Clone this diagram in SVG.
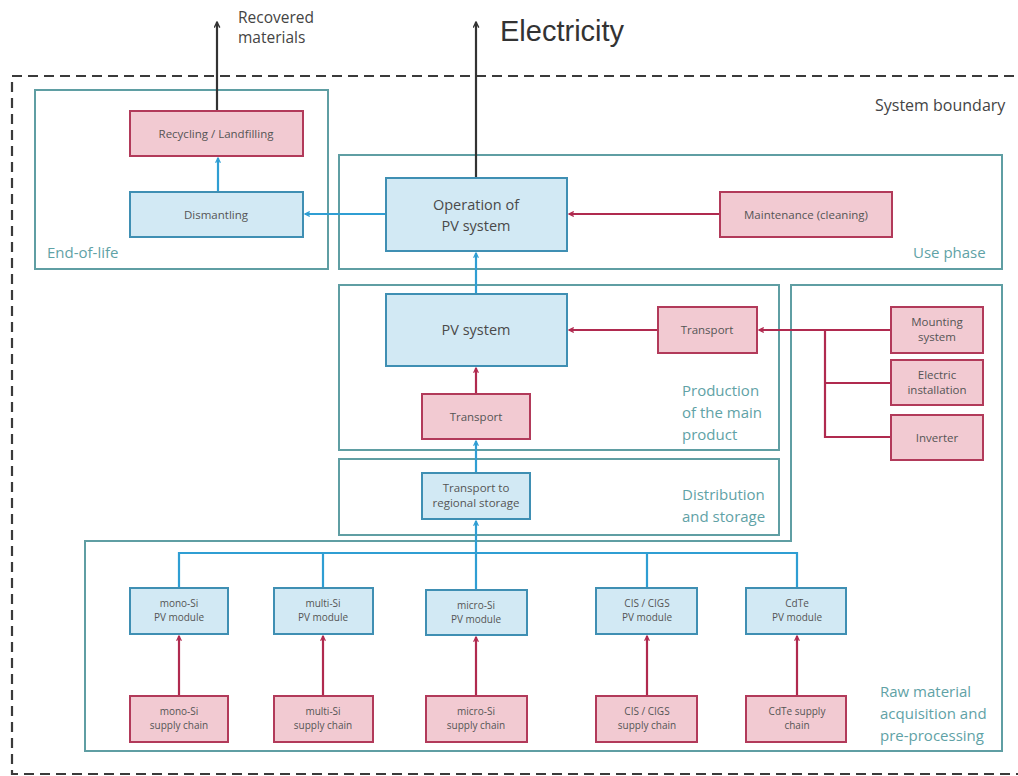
<svg xmlns="http://www.w3.org/2000/svg" width="1018" height="776" viewBox="0 0 1018 776">
<defs>
<style>
.bound{fill:none;stroke:#3a3a3a;stroke-width:2.2;stroke-dasharray:10 6}
.region{fill:none;stroke:#5f9ea3;stroke-width:2}
.rlabel{font-family:"Open Sans","Liberation Sans",sans-serif;font-size:15px;fill:#5fa2a6}
.bnode{fill:#d2e9f4;stroke:#3f8fb3;stroke-width:2}
.rnode{fill:#f2cad2;stroke:#b23a5a;stroke-width:2}
.nt{font-family:"Open Sans","Liberation Sans",sans-serif;font-size:10px;fill:#555;text-anchor:middle}
.nm{font-family:"Open Sans","Liberation Sans",sans-serif;font-size:11.5px;fill:#555;text-anchor:middle}
.ntl{font-family:"Open Sans","Liberation Sans",sans-serif;font-size:14.5px;fill:#4a4a4a;text-anchor:middle}
.bl{fill:none;stroke:#2f9ed3;stroke-width:2.2}
.rl{fill:none;stroke:#b02a4f;stroke-width:2.2}
.kl{fill:none;stroke:#333;stroke-width:2.2}
</style>
<marker id="ab" viewBox="0 0 10 10" refX="9" refY="5" markerWidth="6" markerHeight="6" orient="auto-start-reverse" markerUnits="userSpaceOnUse"><path d="M1,1 L9,5 L1,9" fill="none" stroke="#2f9ed3" stroke-width="2"/></marker>
<marker id="ar" viewBox="0 0 10 10" refX="9" refY="5" markerWidth="6" markerHeight="6" orient="auto-start-reverse" markerUnits="userSpaceOnUse"><path d="M1,1 L9,5 L1,9" fill="none" stroke="#b02a4f" stroke-width="2"/></marker>
<marker id="ak" viewBox="0 0 10 10" refX="9" refY="5" markerWidth="7" markerHeight="7" orient="auto-start-reverse" markerUnits="userSpaceOnUse"><path d="M1,1 L9,5 L1,9" fill="none" stroke="#333" stroke-width="2"/></marker>
</defs>
<rect width="1018" height="776" fill="#fff"/>

<g id="system-boundary">
<path class="bound" d="M1030,76 L12,76 L12,774 L1030,774"/>
<text x="875" y="111" font-family="'Open Sans','Liberation Sans',sans-serif" font-size="16" fill="#444">System boundary</text>
</g>

<g id="regions">
<g id="end-of-life"><rect class="region" x="35" y="90" width="293" height="179"/><text class="rlabel" x="47" y="258">End-of-life</text></g>
<g id="use-phase"><rect class="region" x="339" y="155" width="663" height="114"/><text class="rlabel" x="913" y="258">Use phase</text></g>
<g id="production"><rect class="region" x="339" y="285" width="440" height="165"/><text class="rlabel" x="682" y="396">Production</text><text class="rlabel" x="682" y="418">of the main</text><text class="rlabel" x="682" y="440">product</text></g>
<g id="distribution"><rect class="region" x="339" y="459" width="440" height="76"/><text class="rlabel" x="682" y="500">Distribution</text><text class="rlabel" x="682" y="522">and storage</text></g>
<g id="raw-material"><path class="region" d="M85,541 L791,541 L791,285 L1002,285 L1002,751 L85,751 Z"/><text class="rlabel" x="880" y="697">Raw material</text><text class="rlabel" x="880" y="719">acquisition and</text><text class="rlabel" x="880" y="741">pre-processing</text></g>
</g>

<g id="connectors">
<line class="kl" x1="217" y1="111" x2="217" y2="22" marker-end="url(#ak)"/>
<line class="kl" x1="476" y1="178" x2="476" y2="22" marker-end="url(#ak)"/>
<line class="bl" x1="218" y1="192" x2="218" y2="158" marker-end="url(#ab)"/>
<line class="bl" x1="386" y1="214" x2="305" y2="214" marker-end="url(#ab)"/>
<line class="rl" x1="720" y1="214" x2="569" y2="214" marker-end="url(#ar)"/>
<line class="bl" x1="476" y1="294" x2="476" y2="253" marker-end="url(#ab)"/>
<line class="rl" x1="476" y1="394" x2="476" y2="368" marker-end="url(#ar)"/>
<line class="rl" x1="658" y1="330" x2="569" y2="330" marker-end="url(#ar)"/>
<line class="rl" x1="891" y1="330" x2="759" y2="330" marker-end="url(#ar)"/>
<path class="rl" d="M825,330 L825,437 L891,437 M825,383 L891,383"/>
<line class="bl" x1="476" y1="473" x2="476" y2="441" marker-end="url(#ab)"/>
<line class="bl" x1="476" y1="553" x2="476" y2="521" marker-end="url(#ab)"/>
<path class="bl" d="M179,588 L179,553 L797,553 L797,588 M323,588 L323,553 M476,590 L476,553 M647,588 L647,553"/>
<line class="rl" x1="179" y1="696" x2="179" y2="636" marker-end="url(#ar)"/>
<line class="rl" x1="323" y1="696" x2="323" y2="636" marker-end="url(#ar)"/>
<line class="rl" x1="476" y1="696" x2="476" y2="637" marker-end="url(#ar)"/>
<line class="rl" x1="647" y1="696" x2="647" y2="636" marker-end="url(#ar)"/>
<line class="rl" x1="797" y1="696" x2="797" y2="636" marker-end="url(#ar)"/>
</g>

<g id="outputs">
<text x="238" y="23" font-family="'Open Sans','Liberation Sans',sans-serif" font-size="15.5" fill="#444">Recovered</text>
<text x="238" y="43" font-family="'Open Sans','Liberation Sans',sans-serif" font-size="15.5" fill="#444">materials</text>
<text x="500" y="41" font-family="'Liberation Sans',Arial,sans-serif" font-size="29" fill="#333">Electricity</text>
</g>

<g id="recycling"><rect class="rnode" x="130" y="111" width="173" height="45"/><text class="nm" x="216" y="138">Recycling / Landfilling</text></g>
<g id="dismantling"><rect class="bnode" x="130" y="192" width="173" height="45"/><text class="nm" x="216" y="219">Dismantling</text></g>
<g id="operation"><rect class="bnode" x="386" y="178" width="181" height="73"/><text class="ntl" x="476" y="210">Operation of</text><text class="ntl" x="476" y="231">PV system</text></g>
<g id="maintenance"><rect class="rnode" x="720" y="192" width="172" height="45"/><text class="nm" x="806" y="219">Maintenance (cleaning)</text></g>
<g id="pv-system"><rect class="bnode" x="386" y="294" width="181" height="72"/><text class="ntl" x="476" y="335">PV system</text></g>
<g id="transport-right"><rect class="rnode" x="658" y="307" width="99" height="46"/><text class="nm" x="707" y="334">Transport</text></g>
<g id="transport-main"><rect class="rnode" x="422" y="394" width="108" height="45"/><text class="nm" x="476" y="421">Transport</text></g>
<g id="transport-storage"><rect class="bnode" x="422" y="473" width="108" height="46"/><text class="nm" x="476" y="492">Transport to</text><text class="nm" x="476" y="507">regional storage</text></g>
<g id="mounting"><rect class="rnode" x="891" y="307" width="92" height="46"/><text class="nm" x="937" y="326">Mounting</text><text class="nm" x="937" y="341">system</text></g>
<g id="electric"><rect class="rnode" x="891" y="360" width="92" height="45"/><text class="nm" x="937" y="379">Electric</text><text class="nm" x="937" y="394">installation</text></g>
<g id="inverter"><rect class="rnode" x="891" y="415" width="92" height="45"/><text class="nm" x="937" y="442">Inverter</text></g>

<g id="mono-module"><rect class="bnode" x="130" y="588" width="98" height="46"/><text class="nt" x="179" y="607">mono-Si</text><text class="nt" x="179" y="621">PV module</text></g>
<g id="multi-module"><rect class="bnode" x="274" y="588" width="99" height="46"/><text class="nt" x="323" y="607">multi-Si</text><text class="nt" x="323" y="621">PV module</text></g>
<g id="micro-module"><rect class="bnode" x="426" y="590" width="101" height="45"/><text class="nt" x="476" y="609">micro-Si</text><text class="nt" x="476" y="623">PV module</text></g>
<g id="cis-module"><rect class="bnode" x="596" y="588" width="101" height="46"/><text class="nt" x="647" y="607">CIS / CIGS</text><text class="nt" x="647" y="621">PV module</text></g>
<g id="cdte-module"><rect class="bnode" x="746" y="588" width="100" height="46"/><text class="nt" x="797" y="607">CdTe</text><text class="nt" x="797" y="621">PV module</text></g>

<g id="mono-supply"><rect class="rnode" x="130" y="696" width="98" height="46"/><text class="nt" x="179" y="715">mono-Si</text><text class="nt" x="179" y="729">supply chain</text></g>
<g id="multi-supply"><rect class="rnode" x="274" y="696" width="99" height="46"/><text class="nt" x="323" y="715">multi-Si</text><text class="nt" x="323" y="729">supply chain</text></g>
<g id="micro-supply"><rect class="rnode" x="426" y="696" width="101" height="46"/><text class="nt" x="476" y="715">micro-Si</text><text class="nt" x="476" y="729">supply chain</text></g>
<g id="cis-supply"><rect class="rnode" x="596" y="696" width="101" height="46"/><text class="nt" x="647" y="715">CIS / CIGS</text><text class="nt" x="647" y="729">supply chain</text></g>
<g id="cdte-supply"><rect class="rnode" x="746" y="696" width="100" height="46"/><text class="nt" x="797" y="715">CdTe supply</text><text class="nt" x="797" y="729">chain</text></g>
</svg>
